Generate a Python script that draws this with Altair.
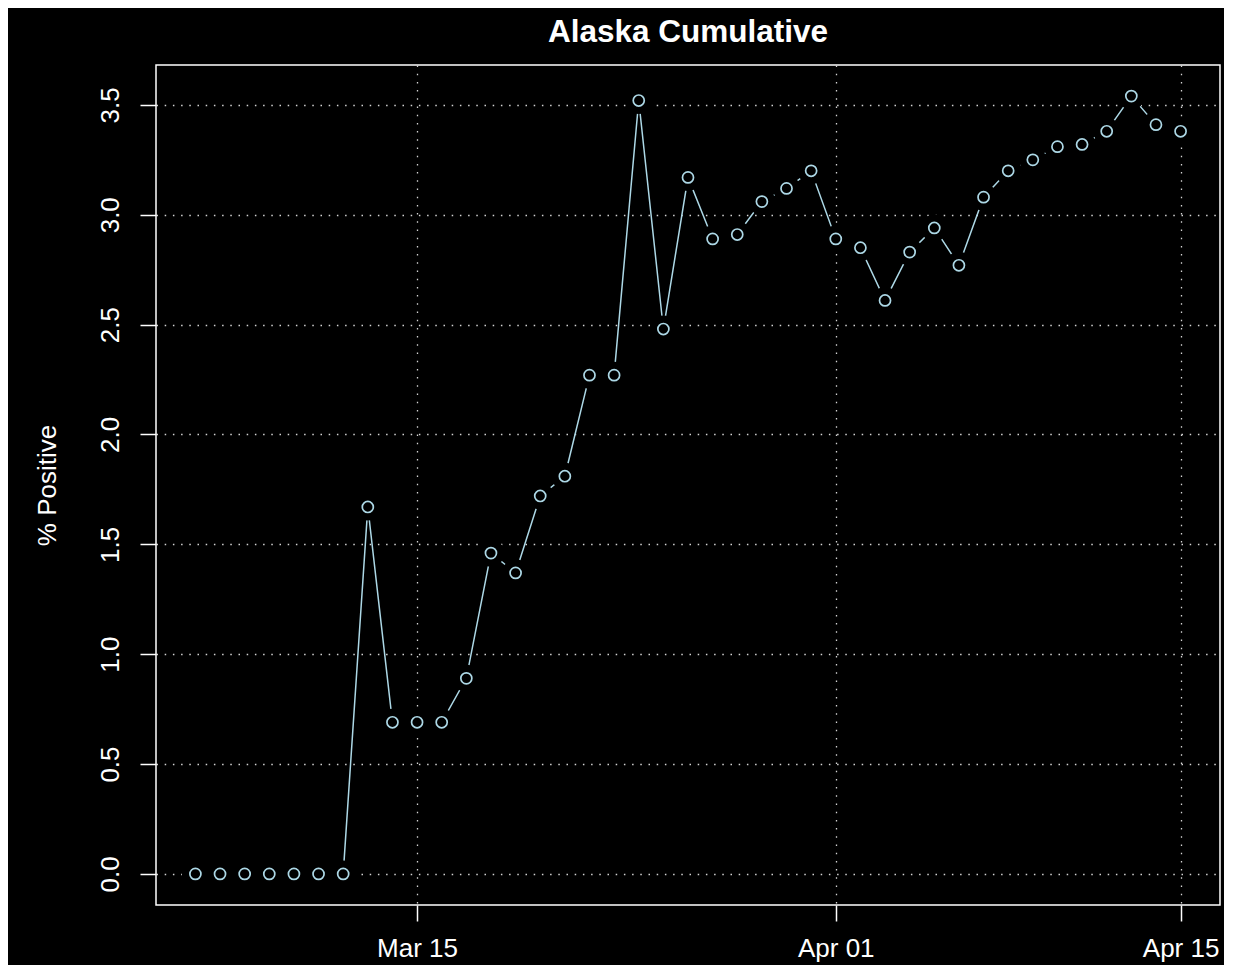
import altair as alt
import pandas as pd

dates = pd.date_range("2020-03-06", "2020-04-15", freq="D").strftime("%Y-%m-%dT00:00:00").tolist()
pct_positive = [
    0.0, 0.0, 0.0, 0.0, 0.0, 0.0, 0.0,
    1.67, 0.69, 0.69, 0.69, 0.89, 1.46, 1.37, 1.72, 1.81, 2.27, 2.27,
    3.52, 2.48, 3.17, 2.89, 2.91, 3.06, 3.12, 3.20,
    2.89, 2.85, 2.61, 2.83, 2.94, 2.77, 3.08, 3.20, 3.25, 3.31, 3.32,
    3.38, 3.54, 3.41, 3.38,
]
y_ticks = [0.0, 0.5, 1.0, 1.5, 2.0, 2.5, 3.0, 3.5]
x_ticks = [(3, 15), (4, 1), (4, 15)]

df = pd.DataFrame({"date": dates, "pct": pct_positive})

FONT = "Liberation Sans"
COL = "#ADD8E6"

x_enc = alt.X(
    "date:T",
    scale=alt.Scale(domain=[alt.DateTime(year=2020, month=3, date=4, hours=9, minutes=36),
                            alt.DateTime(year=2020, month=4, date=16, hours=14, minutes=24)]),
    axis=alt.Axis(
        values=[alt.DateTime(year=2020, month=m, date=d) for m, d in x_ticks],
        labelExpr="timeFormat(datum.value, '%b %d')",
        title=None, tickSize=16, labelPadding=35, labelBaseline="alphabetic",
        labelAlign="center",
    ),
)
y_enc = alt.Y(
    "pct:Q",
    scale=alt.Scale(domain=[-0.1416, 3.6816], nice=False, zero=False),
    axis=alt.Axis(
        values=y_ticks, format=".1f", title="% Positive",
        tickSize=16, labelPadding=22, labelAngle=-90, labelAlign="center",
        labelBaseline="alphabetic",
        titleAngle=-90, titleX=-101, titleY=420, titleAlign="center",
        titleBaseline="alphabetic",
    ),
)

base = alt.Chart(df).encode(x=x_enc, y=y_enc)

line = base.mark_line(color=COL, strokeWidth=1.5)
mask = base.mark_circle(color="black", opacity=1, size=730)
pts = base.mark_point(shape="circle", filled=False, color=COL, size=122, strokeWidth=1.7, opacity=1)

chart = alt.layer(line, mask, pts).properties(
    width=1064,
    height=840,
    autosize=alt.AutoSizeParams(type="none"),
    padding={"left": 148, "top": 57, "right": 4, "bottom": 60},
    background="black",
    title=alt.TitleParams(
        "Alaska Cumulative", fontSize=31.5, font=FONT, fontWeight="bold",
        color="white", anchor="middle", baseline="alphabetic", offset=-8,
    ),
).configure_view(
    stroke="white", strokeWidth=1.5, fill="black",
).configure_axis(
    domain=False, grid=True, gridColor="#D3D3D3", gridDash=[1.5, 6.7], gridWidth=1.3,
    tickColor="white", tickWidth=1.5,
    labelColor="white", labelFont=FONT, labelFontSize=26, labelOverlap=False,
    titleColor="white", titleFont=FONT, titleFontSize=26, titleFontWeight="normal",
    zindex=1,
)

chart.save("out.html", embed_options={"renderer": "svg", "actions": False})
